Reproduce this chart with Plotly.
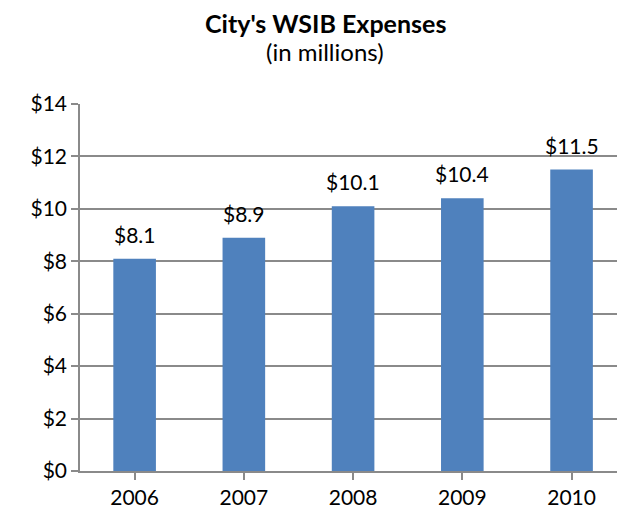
import plotly.graph_objects as go

years = ["2006", "2007", "2008", "2009", "2010"]
expenses = [8.1, 8.9, 10.1, 10.4, 11.5]
labels = ["$8.1", "$8.9", "$10.1", "$10.4", "$11.5"]
ytick_vals = [0, 2, 4, 6, 8, 10, 12, 14]
ytick_text = ["$0", "$2", "$4", "$6", "$8", "$10", "$12", "$14"]

FONT = "Lato, Open Sans, sans-serif"
GRAY = "#8a8a8a"

W, H = 617, 518
MT, MB, ML = 104, 47, 80

fig = go.Figure()
fig.add_trace(go.Bar(
    x=list(range(len(years))), y=expenses,
    marker=dict(color="#4F81BD", line=dict(width=0)),
    width=0.39, hoverinfo="skip",
))

plot_h = H - MT - MB
def paper_y(px_from_top):
    return (H - MB - px_from_top) / plot_h

annotations = []
for i, (v, t) in enumerate(zip(expenses, labels)):
    annotations.append(dict(x=i, y=v, xref="x", yref="y", text=t, showarrow=False,
                            yanchor="bottom", yshift=10,
                            font=dict(family=FONT, size=21, color="#000")))
annotations.append(dict(x=0.457, y=paper_y(23), xref="paper", yref="paper",
                        text="<b>City's WSIB Expenses</b>", showarrow=False,
                        xanchor="center", yanchor="middle",
                        font=dict(family=FONT, size=25, color="#000")))
annotations.append(dict(x=0.457, y=paper_y(52), xref="paper", yref="paper",
                        text="(in millions)", showarrow=False,
                        xanchor="center", yanchor="middle",
                        font=dict(family=FONT, size=24, color="#000")))

fig.update_layout(
    width=W, height=H,
    margin=dict(l=ML, r=0, t=MT, b=MB),
    plot_bgcolor="white", paper_bgcolor="white",
    showlegend=False,
    font=dict(family=FONT, size=21, color="#000"),
    annotations=annotations,
    xaxis=dict(
        range=[-0.5, 4.416], tickmode="array", tickvals=list(range(len(years))), ticktext=years,
        tickson="boundaries", ticks="outside", ticklen=7, tickcolor=GRAY, tickwidth=1.5,
        showline=True, linecolor=GRAY, linewidth=1.5, showgrid=False, zeroline=False,
        tickfont=dict(family=FONT, size=21),
    ),
    yaxis=dict(
        range=[0, 14], tickmode="array", tickvals=ytick_vals, ticktext=ytick_text,
        ticks="outside", ticklen=7, tickcolor=GRAY, tickwidth=1.5,
        showline=True, linecolor=GRAY, linewidth=1.5,
        showgrid=True, gridcolor=GRAY, gridwidth=1.5, zeroline=False,
        tickfont=dict(family=FONT, size=21),
    ),
)

fig.write_html("out.html", config={"displayModeBar": False},
               post_script="document.body.style.margin='0';document.body.style.overflow='hidden';document.documentElement.style.overflow='hidden';")
